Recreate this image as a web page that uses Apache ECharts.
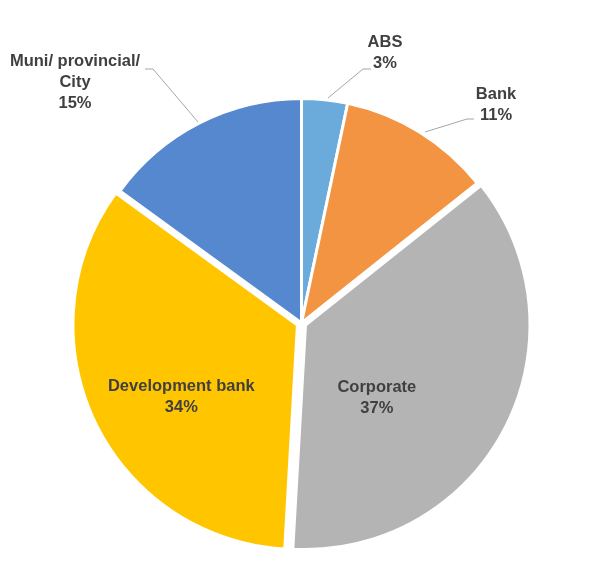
<!DOCTYPE html>
<html>
<head>
<meta charset="utf-8">
<script src="https://cdn.jsdelivr.net/npm/echarts@6/dist/echarts.min.js"></script>
<style>
  html, body { margin: 0; padding: 0; background: #fff; }
  #chart { width: 596px; height: 576px; }
</style>
</head>
<body>
<div id="chart"></div>
<script>
// data (shares, labels show rounded %)
var categories = ["ABS", "Bank", "Corporate", "Development bank", "Muni/ provincial/\nCity"];
var values = [3.3, 11.0, 36.6, 34.1, 15.0];
var colors = ["#6aabdc", "#f29441", "#b4b4b4", "#ffc600", "#5588cf"];
var insideLabel = [false, false, true, true, false];
var exploded = [false, false, true, true, false];

// outside labels: text centre + leader line, placed like excel did
var labelSpots = [
  { x: 385, y: 53, line: [[328, 98], [363, 69], [371, 69]] },
  { x: 496, y: 105, line: [[425, 132], [467, 119], [474, 119]] },
  null,
  null,
  { x: 75, y: 82, line: [[198, 122], [153, 69], [145, 69]] }
];
// inside labels sit lower/left than echarts' default spot:
// right padding pulls them left, an empty rich line on top pushes them down
var insidePadding = [null, null, [0, 62, 0, 0], [0, 24, 0, 0], null];
var insideGap = [0, 0, 39, 46, 0];

var chart = echarts.init(document.getElementById("chart"));

var pieData = categories.map(function (name, i) {
  var lbl = { position: insideLabel[i] ? "inside" : "outside" };
  if (insidePadding[i]) {
    lbl.padding = insidePadding[i];
    lbl.rich = { gap: { height: insideGap[i], lineHeight: insideGap[i] } };
  }
  return {
    name: name,
    value: values[i],
    selected: exploded[i],
    itemStyle: { color: colors[i] },
    label: lbl,
    labelLine: { show: !insideLabel[i] }
  };
});

var option = {
  animation: false,
  series: [
    {
      type: "pie",
      center: [301.5, 323],
      radius: 224.5,
      startAngle: 90,
      clockwise: true,
      selectedMode: "multiple",
      selectedOffset: 4.5,
      select: { itemStyle: { borderColor: "#fff", borderWidth: 3 } },
      itemStyle: { borderColor: "#fff", borderWidth: 3 },
      label: {
        formatter: function (p) {
          var txt = p.name + "\n" + Math.round(p.percent) + "%";
          return insideLabel[p.dataIndex] ? "{gap|}\n" + txt : txt;
        },
        fontFamily: "Liberation Sans, Arial, sans-serif",
        fontWeight: "bold",
        fontSize: 16.5,
        lineHeight: 21,
        color: "#404040",
        align: "center"
      },
      labelLine: {
        lineStyle: { color: "#a6a6a6", width: 1 }
      },
      labelLayout: function (params) {
        var s = labelSpots[params.dataIndex];
        if (!s) return;
        return {
          x: s.x,
          y: s.y,
          align: "center",
          verticalAlign: "middle",
          labelLinePoints: s.line
        };
      },
      data: pieData
    }
  ]
};

chart.setOption(option);
</script>
</body>
</html>
